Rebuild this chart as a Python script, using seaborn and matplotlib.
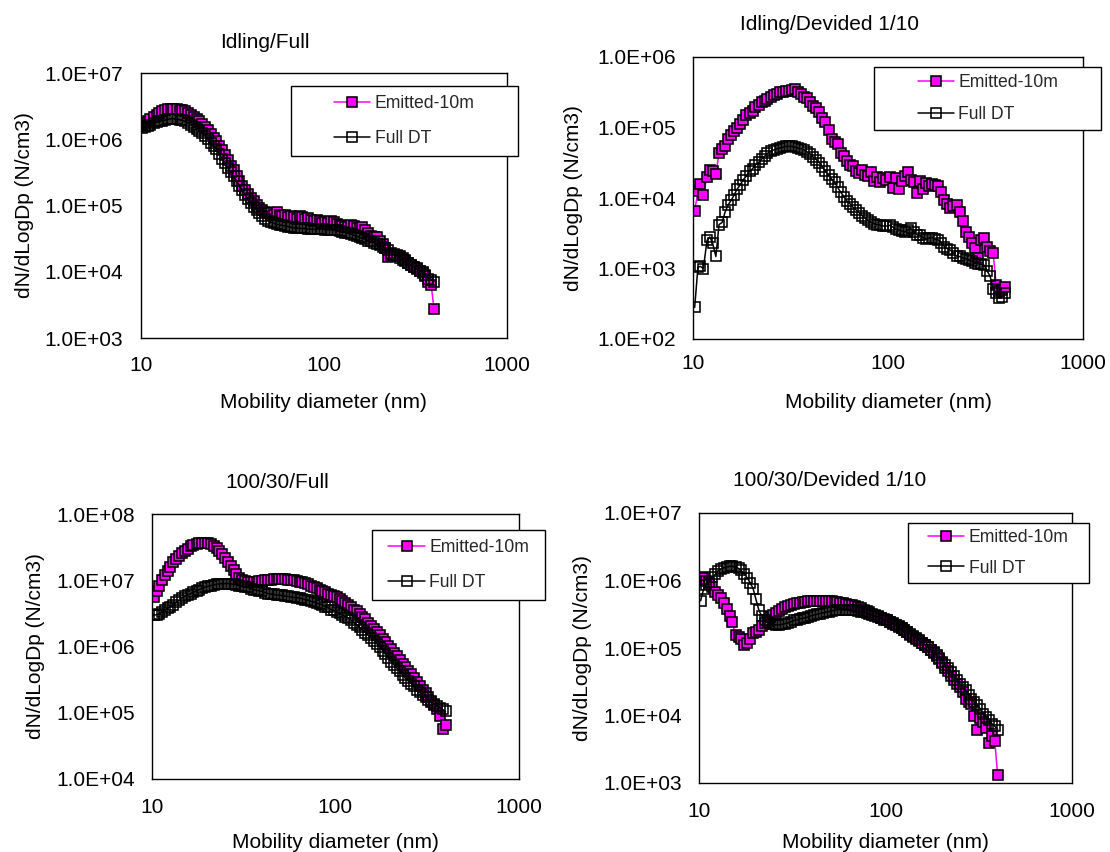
import matplotlib
matplotlib.use("Agg")
import matplotlib.pyplot as plt
from matplotlib.patches import Rectangle
from matplotlib.ticker import FixedLocator, FuncFormatter, NullLocator
import seaborn as sns

sns.set_theme(style="white")
plt.rcParams['font.family'] = ['Liberation Sans', 'DejaVu Sans']

# ---------------- data ----------------
DIAM = [10.2, 10.6, 10.9, 11.3, 11.8, 12.2, 12.6, 13.1,
        13.6, 14.1, 14.6, 15.1, 15.7, 16.3, 16.8, 17.5,
        18.1, 18.8, 19.5, 20.2, 20.9, 21.7, 22.5, 23.3,
        24.1, 25.0, 25.9, 26.9, 27.9, 28.9, 30.0, 31.1,
        32.2, 33.4, 34.6, 35.9, 37.2, 38.5, 40.0, 41.4,
        42.9, 44.5, 46.1, 47.8, 49.6, 51.4, 53.3, 55.2,
        57.3, 59.4, 61.5, 63.8, 66.1, 68.5, 71.0, 73.7,
        76.4, 79.1, 82.0, 85.1, 88.2, 91.4, 94.7, 98.2,
        101.8, 105.5, 109.4, 113.4, 117.6, 121.9, 126.3, 131.0,
        135.8, 140.7, 145.9, 151.2, 156.8, 162.5, 168.5, 174.7,
        181.1, 187.7, 194.6, 201.7, 209.1, 216.7, 224.7, 232.9,
        241.4, 250.3, 259.5, 269.0, 278.8, 289.0, 299.6, 310.6,
        322.0, 333.8, 346.0, 358.7, 371.8, 385.4, 399.5]

IDLING_FULL_EMITTED = [
    1.66e6, 1.78e6, 1.9e6, 2.04e6, 2.19e6, 2.34e6, 2.51e6, 2.63e6,
    2.75e6, 2.82e6, 2.88e6, 2.88e6, 2.85e6, 2.8e6, 2.75e6, 2.63e6,
    2.51e6, 2.34e6, 2.19e6, 2.04e6, 1.86e6, 1.7e6, 1.55e6, 1.38e6,
    1.2e6, 1.05e6, 9.3e5, 7.9e5, 6.8e5, 5.75e5, 4.8e5, 4.0e5,
    3.4e5, 2.8e5, 2.35e5, 2.0e5, 1.7e5, 1.48e5, 1.29e5, 1.15e5,
    1.02e5, 9.3e4, 8.7e4, 8.1e4, 7.8e4, 7.6e4, 7.2e4, 7.9e4,
    7.2e4, 6.9e4, 7.1e4, 6.8e4, 6.9e4, 6.6e4, 6.3e4, 6.9e4,
    6.8e4, 6.3e4, 6.5e4, 6.0e4, 5.9e4, 6.0e4, 5.8e4, 5.5e4,
    5.6e4, 5.4e4, 5.8e4, 5.6e4, 5.2e4, 5.1e4, 4.9e4, 4.8e4,
    4.7e4, 5.0e4, 4.9e4, 4.6e4, 4.5e4, 4.8e4, 4.2e4, 3.8e4,
    3.5e4, 3.3e4, 3.4e4, 2.95e4, 2.6e4, 2.3e4, 1.65e4, 1.8e4,
    1.85e4, 1.8e4, 1.75e4, 1.6e4, 1.5e4, 1.35e4, 1.25e4, 1.2e4,
    1.12e4, 1.02e4, 9.5e3, 8.7e3, 6.9e3, 6.3e3, 2.75e3]
IDLING_FULL_DT = [
    1.48e6, 1.55e6, 1.58e6, 1.66e6, 1.74e6, 1.82e6, 1.86e6, 1.9e6,
    1.95e6, 2.0e6, 2.04e6, 2.04e6, 2.0e6, 1.97e6, 1.93e6, 1.86e6,
    1.76e6, 1.66e6, 1.55e6, 1.45e6, 1.35e6, 1.23e6, 1.12e6, 1.0e6,
    8.9e5, 7.9e5, 7.1e5, 6.0e5, 5.1e5, 4.4e5, 3.7e5, 3.2e5,
    2.75e5, 2.35e5, 2.0e5, 1.7e5, 1.45e5, 1.26e5, 1.1e5, 9.5e4,
    8.5e4, 7.6e4, 6.9e4, 6.3e4, 5.9e4, 5.6e4, 5.4e4, 5.2e4,
    5.1e4, 5.0e4, 4.9e4, 4.8e4, 4.7e4, 4.6e4, 4.6e4, 4.5e4,
    4.5e4, 4.5e4, 4.4e4, 4.4e4, 4.4e4, 4.4e4, 4.4e4, 4.4e4,
    4.3e4, 4.3e4, 4.3e4, 4.2e4, 4.2e4, 4.1e4, 4.0e4, 3.9e4,
    3.8e4, 3.7e4, 3.55e4, 3.45e4, 3.3e4, 3.2e4, 3.1e4, 2.95e4,
    2.9e4, 2.75e4, 2.6e4, 2.5e4, 2.4e4, 2.25e4, 2.1e4, 1.95e4,
    1.8e4, 1.75e4, 1.6e4, 1.5e4, 1.45e4, 1.35e4, 1.25e4, 1.18e4,
    1.1e4, 1.02e4, 1.0e4, 8.9e3, 7.9e3, 7.6e3, 7.1e3]

IDLING_DIV_EMITTED = [
    6.5e3, 1.26e4, 1.58e4, 1.12e4, 2.0e4, 2.5e4, 2.4e4, 2.2e4,
    4.3e4, 5.0e4, 5.5e4, 6.9e4, 7.9e4, 8.9e4, 1.0e5, 1.12e5,
    1.26e5, 1.48e5, 1.62e5, 1.74e5, 1.95e5, 2.1e5, 2.3e5, 2.4e5,
    2.57e5, 2.7e5, 2.9e5, 3.0e5, 3.16e5, 3.24e5, 3.3e5, 3.3e5,
    3.4e5, 3.5e5, 3.16e5, 3.0e5, 2.75e5, 2.6e5, 2.3e5, 2.05e5,
    1.86e5, 1.66e5, 1.38e5, 1.2e5, 9.1e4, 6.9e4, 6.3e4, 5.8e4,
    4.4e4, 4.0e4, 3.4e4, 2.95e4, 2.8e4, 2.45e4, 2.25e4, 2.5e4,
    2.15e4, 2.05e4, 2.3e4, 1.74e4, 2.0e4, 1.66e4, 1.9e4, 1.8e4,
    2.0e4, 1.38e4, 1.95e4, 1.32e4, 1.74e4, 2.05e4, 2.3e4, 1.8e4,
    1.66e4, 1.17e4, 1.74e4, 1.32e4, 1.62e4, 1.48e4, 1.58e4, 1.55e4,
    1.5e4, 1.2e4, 9.3e3, 8.3e3, 7.1e3, 7.6e3, 7.9e3, 6.3e3,
    4.7e3, 3.3e3, 2.8e3, 2.3e3, 1.95e3, 1.4e3, 2.5e3, 2.7e3,
    2.0e3, 1.78e3, 1.66e3, 5.9e2, 4.8e2, 5.0e2, 5.5e2]
IDLING_DIV_DT = [
    2.8e2, 1.05e3, 1.07e3, 1.0e3, 2.5e3, 2.8e3, 2.3e3, 1.48e3,
    4.2e3, 4.5e3, 6.3e3, 7.9e3, 9.3e3, 1.12e4, 1.32e4, 1.55e4,
    1.82e4, 2.05e4, 2.4e4, 2.6e4, 2.95e4, 3.2e4, 3.55e4, 3.9e4,
    4.3e4, 4.6e4, 4.8e4, 5.0e4, 5.1e4, 5.25e4, 5.4e4, 5.4e4,
    5.4e4, 5.25e4, 5.1e4, 5.0e4, 4.8e4, 4.5e4, 4.2e4, 3.8e4,
    3.5e4, 3.16e4, 2.75e4, 2.4e4, 2.1e4, 1.86e4, 1.66e4, 1.41e4,
    1.2e4, 1.05e4, 9.1e3, 8.3e3, 7.4e3, 6.8e3, 6.2e3, 5.6e3,
    5.2e3, 4.8e3, 4.5e3, 4.3e3, 4.2e3, 4.1e3, 4.0e3, 4.0e3,
    4.1e3, 3.9e3, 3.6e3, 3.55e3, 3.4e3, 3.3e3, 3.5e3, 3.7e3,
    3.3e3, 3.0e3, 2.95e3, 2.75e3, 2.6e3, 2.7e3, 2.75e3, 2.6e3,
    2.55e3, 2.3e3, 2.05e3, 1.9e3, 1.82e3, 1.66e3, 1.5e3, 1.48e3,
    1.41e3, 1.38e3, 1.32e3, 1.26e3, 1.2e3, 1.17e3, 1.15e3, 1.12e3,
    9.3e2, 7.8e2, 5.2e2, 4.5e2, 3.8e2, 4.0e2, 4.5e2]

LOAD_FULL_EMITTED = [
    5.5e6, 6.9e6, 8.1e6, 1.0e7, 1.2e7, 1.38e7, 1.58e7, 1.86e7,
    2.1e7, 2.35e7, 2.57e7, 2.8e7, 3.0e7, 3.24e7, 3.4e7, 3.55e7,
    3.6e7, 3.67e7, 3.67e7, 3.6e7, 3.47e7, 3.3e7, 3.1e7, 2.75e7,
    2.45e7, 2.14e7, 1.86e7, 1.62e7, 1.41e7, 1.23e7, 1.1e7, 1.02e7,
    9.8e6, 9.5e6, 9.5e6, 9.5e6, 9.5e6, 9.8e6, 9.8e6, 1.0e7,
    1.02e7, 1.02e7, 1.05e7, 1.05e7, 1.05e7, 1.05e7, 1.05e7, 1.02e7,
    1.02e7, 1.0e7, 9.8e6, 9.5e6, 9.3e6, 9.1e6, 8.7e6, 8.3e6,
    7.9e6, 7.6e6, 7.2e6, 6.9e6, 6.6e6, 6.3e6, 6.0e6, 5.75e6,
    5.5e6, 5.25e6, 4.9e6, 4.6e6, 4.3e6, 4.0e6, 3.6e6, 3.4e6,
    3.1e6, 2.8e6, 2.57e6, 2.3e6, 2.04e6, 1.82e6, 1.66e6, 1.48e6,
    1.32e6, 1.15e6, 1.02e6, 9.1e5, 7.9e5, 7.1e5, 6.2e5, 5.5e5,
    4.9e5, 4.3e5, 3.8e5, 3.3e5, 2.95e5, 2.57e5, 2.24e5, 2.0e5,
    1.74e5, 1.51e5, 1.32e5, 1.12e5, 8.9e4, 5.75e4, 6.6e4]
LOAD_FULL_DT = [
    3.0e6, 3.0e6, 3.1e6, 3.3e6, 3.55e6, 3.8e6, 4.0e6, 4.3e6,
    4.7e6, 5.0e6, 5.4e6, 5.75e6, 6.0e6, 6.3e6, 6.6e6, 6.9e6,
    7.2e6, 7.6e6, 7.9e6, 8.1e6, 8.3e6, 8.5e6, 8.7e6, 8.8e6,
    8.9e6, 8.9e6, 8.9e6, 8.8e6, 8.7e6, 8.5e6, 8.3e6, 8.1e6,
    7.9e6, 7.8e6, 7.4e6, 7.2e6, 7.1e6, 6.9e6, 6.8e6, 6.5e6,
    6.3e6, 6.2e6, 6.1e6, 6.0e6, 5.95e6, 5.9e6, 5.75e6, 5.7e6,
    5.6e6, 5.5e6, 5.45e6, 5.4e6, 5.25e6, 5.1e6, 5.0e6, 4.8e6,
    4.7e6, 4.5e6, 4.4e6, 4.2e6, 4.0e6, 3.9e6, 3.6e6, 3.5e6,
    3.3e6, 3.16e6, 3.0e6, 2.8e6, 2.7e6, 2.5e6, 2.3e6, 2.14e6,
    1.95e6, 1.78e6, 1.62e6, 1.48e6, 1.35e6, 1.23e6, 1.1e6, 9.8e5,
    8.7e5, 7.6e5, 6.8e5, 5.9e5, 5.25e5, 4.7e5, 4.2e5, 3.7e5,
    3.3e5, 3.0e5, 2.75e5, 2.5e5, 2.24e5, 2.04e5, 1.86e5, 1.7e5,
    1.55e5, 1.45e5, 1.35e5, 1.26e5, 1.2e5, 1.12e5, 1.05e5]

LOAD_DIV_EMITTED = [
    1.12e6, 1.1e6, 1.0e6, 8.9e5, 7.9e5, 6.8e5, 6.0e5, 5.5e5,
    4.7e5, 3.8e5, 2.95e5, 2.4e5, 1.55e5, 1.48e5, 1.38e5, 1.12e5,
    1.2e5, 1.38e5, 1.66e5, 1.74e5, 1.86e5, 2.1e5, 2.35e5, 2.6e5,
    2.9e5, 3.1e5, 3.3e5, 3.55e5, 3.8e5, 4.0e5, 4.2e5, 4.4e5,
    4.5e5, 4.6e5, 4.7e5, 4.8e5, 4.8e5, 4.9e5, 4.9e5, 4.9e5,
    5.0e5, 5.0e5, 5.0e5, 4.9e5, 4.9e5, 4.9e5, 4.8e5, 4.8e5,
    4.7e5, 4.6e5, 4.5e5, 4.4e5, 4.3e5, 4.2e5, 4.0e5, 3.9e5,
    3.7e5, 3.55e5, 3.4e5, 3.24e5, 3.1e5, 2.95e5, 2.8e5, 2.7e5,
    2.6e5, 2.45e5, 2.35e5, 2.2e5, 2.1e5, 1.95e5, 1.82e5, 1.7e5,
    1.58e5, 1.48e5, 1.38e5, 1.26e5, 1.17e5, 1.1e5, 1.02e5, 9.3e4,
    8.5e4, 7.6e4, 6.8e4, 5.9e4, 5.1e4, 4.5e4, 3.8e4, 3.4e4,
    2.9e4, 2.6e4, 2.24e4, 1.78e4, 1.58e4, 1.5e4, 1.0e4, 6.2e3,
    9.1e3, 7.9e3, 6.6e3, 3.9e3, 5.0e3, 4.2e3, 1.3e3]
LOAD_DIV_DT = [
    5.0e5, 7.6e5, 8.5e5, 9.5e5, 1.12e6, 1.23e6, 1.38e6, 1.48e6,
    1.55e6, 1.58e6, 1.62e6, 1.62e6, 1.58e6, 1.51e6, 1.41e6, 1.26e6,
    1.1e6, 9.3e5, 7.6e5, 5.25e5, 3.7e5, 2.95e5, 2.57e5, 2.4e5,
    2.3e5, 2.24e5, 2.2e5, 2.2e5, 2.24e5, 2.3e5, 2.35e5, 2.45e5,
    2.57e5, 2.6e5, 2.7e5, 2.75e5, 2.8e5, 2.9e5, 3.0e5, 3.1e5,
    3.16e5, 3.24e5, 3.3e5, 3.4e5, 3.45e5, 3.55e5, 3.6e5, 3.7e5,
    3.7e5, 3.7e5, 3.7e5, 3.7e5, 3.6e5, 3.6e5, 3.55e5, 3.45e5,
    3.4e5, 3.3e5, 3.16e5, 3.1e5, 2.95e5, 2.9e5, 2.75e5, 2.6e5,
    2.57e5, 2.4e5, 2.3e5, 2.2e5, 2.04e5, 1.95e5, 1.82e5, 1.7e5,
    1.62e5, 1.51e5, 1.41e5, 1.32e5, 1.2e5, 1.12e5, 1.05e5, 9.5e4,
    8.7e4, 7.9e4, 7.1e4, 6.3e4, 5.6e4, 5.0e4, 4.4e4, 3.9e4,
    3.4e4, 2.95e4, 2.6e4, 2.35e4, 2.0e4, 1.74e4, 1.58e4, 1.41e4,
    1.26e4, 1.05e4, 9.5e3, 8.7e3, 7.6e3, 6.9e3, 6.2e3]

TITLES = ["Idling/Full", "Idling/Devided 1/10", "100/30/Full", "100/30/Devided 1/10"]
SERIES_LABELS = ["Emitted-10m", "Full DT"]
X_TICKS = [10, 100, 1000]
Y_RANGES = [(1e3, 1e7), (1e2, 1e6), (1e4, 1e8), (1e3, 1e7)]
PANEL_DATA = [(IDLING_FULL_EMITTED, IDLING_FULL_DT),
              (IDLING_DIV_EMITTED, IDLING_DIV_DT),
              (LOAD_FULL_EMITTED, LOAD_FULL_DT),
              (LOAD_DIV_EMITTED, LOAD_DIV_DT)]

# ---------------- layout (pixels of a 1110x852 canvas) ----------------
W, H = 1110, 852
LAYOUT = [
    dict(frame=(140.7, 73, 507, 338), title=(265, 42), ylab=24.7, xlab=403,
         leg=(291, 86, 517.5, 156), lsp=1.0, xpad=13),
    dict(frame=(693, 57, 1083, 339), title=(829, 25), ylab=573.5, xlab=403,
         leg=(874.5, 67, 1101, 130), lsp=0.85, xpad=11),
    dict(frame=(152, 514, 518.6, 779), title=(277.5, 482), ylab=36, xlab=842,
         leg=(372, 530, 545.4, 600), lsp=1.05, xpad=14),
    dict(frame=(699, 513, 1072, 783), title=(830, 481), ylab=582, xlab=842,
         leg=(907.8, 523, 1089, 583), lsp=0.75, xpad=14),
]

MAGENTA = "#FF00FF"
MS = 6.8
MEW = 1.15
fig = plt.figure(figsize=(W / 100, H / 100), dpi=100)
fig.patch.set_facecolor("white")

sci = FuncFormatter(lambda v, p: f"{v:.1E}")

for k in range(4):
    lay = LAYOUT[k]
    l, t, r, b = lay["frame"]
    ax = fig.add_axes([l / W, 1 - b / H, (r - l) / W, (b - t) / H])
    ax.set_facecolor("white")
    emitted, fulldt = PANEL_DATA[k]

    sns.lineplot(x=DIAM, y=emitted, ax=ax, sort=False, estimator=None, legend=False,
                 color=MAGENTA, linewidth=1.1, marker="s", markersize=MS,
                 markerfacecolor=MAGENTA, markeredgecolor="black",
                 markeredgewidth=MEW, label=SERIES_LABELS[0])
    h_e = ax.lines[-1]
    sns.lineplot(x=DIAM, y=fulldt, ax=ax, sort=False, estimator=None, legend=False,
                 color="black", linewidth=1.1, marker="s", markersize=MS,
                 markerfacecolor="none", markeredgecolor="black",
                 markeredgewidth=MEW, label=SERIES_LABELS[1])
    h_f = ax.lines[-1]
    if ax.get_legend() is not None:
        ax.get_legend().remove()

    ax.set_xscale("log")
    ax.set_yscale("log")
    ax.set_xlim(10, 1000)
    lo, hi = Y_RANGES[k]
    ax.set_ylim(lo, hi)
    ax.xaxis.set_major_locator(FixedLocator(X_TICKS))
    ax.xaxis.set_major_formatter(FuncFormatter(lambda v, p: f"{v:g}"))
    ax.xaxis.set_minor_locator(NullLocator())
    yt = [lo * 10 ** i for i in range(5)]
    ax.yaxis.set_major_locator(FixedLocator(yt))
    ax.yaxis.set_major_formatter(sci)
    ax.yaxis.set_minor_locator(NullLocator())
    ax.tick_params(axis="both", which="major", direction="in", length=5, width=1,
                   colors="black", labelsize=15)
    ax.tick_params(axis="y", pad=12.5)
    ax.tick_params(axis="x", pad=lay["xpad"])
    ax.tick_params(axis="x", top=False)
    ax.tick_params(axis="y", right=False)
    for s in ax.spines.values():
        s.set_visible(True)
        s.set_color("black")
        s.set_linewidth(1.0)
    ax.grid(False)

    # axis labels
    ax.set_xlabel("Mobility diameter (nm)", fontsize=15, color="black")
    ax.xaxis.set_label_coords(0.5, (b - lay["xlab"]) / (b - t))
    ax.xaxis.label.set_verticalalignment("center")
    ax.set_ylabel("dN/dLogDp (N/cm3)", fontsize=15, color="black")
    ax.yaxis.set_label_coords((lay["ylab"] - l) / (r - l), 0.5)
    ax.yaxis.label.set_verticalalignment("center")
    ax.yaxis.label.set_horizontalalignment("center")

    # title (offset towards the chart-area centre, as in the original)
    tx, ty = lay["title"]
    ax.set_title(TITLES[k], x=(tx - l) / (r - l), y=(b - ty) / (b - t), pad=0,
                 fontsize=15, color="black", va="center", ha="center")

    # legend box
    lx0, ly0, lx1, ly1 = lay["leg"]
    rect = Rectangle((lx0 / W, 1 - ly1 / H), (lx1 - lx0) / W, (ly1 - ly0) / H,
                     transform=fig.transFigure, facecolor="white",
                     edgecolor="black", linewidth=1.0, zorder=3)
    fig.add_artist(rect)
    leg = fig.legend([h_e, h_f], SERIES_LABELS, loc="center",
                     bbox_to_anchor=((lx0 + lx1) / 2 / W, 1 - (ly0 + ly1) / 2 / H),
                     frameon=False, fontsize=12.7, handlelength=2.05,
                     handletextpad=0.25, labelspacing=lay["lsp"],
                     borderpad=0, borderaxespad=0, numpoints=1)
    leg.set_zorder(4)

fig.savefig("out.png", dpi=100, facecolor="white")
